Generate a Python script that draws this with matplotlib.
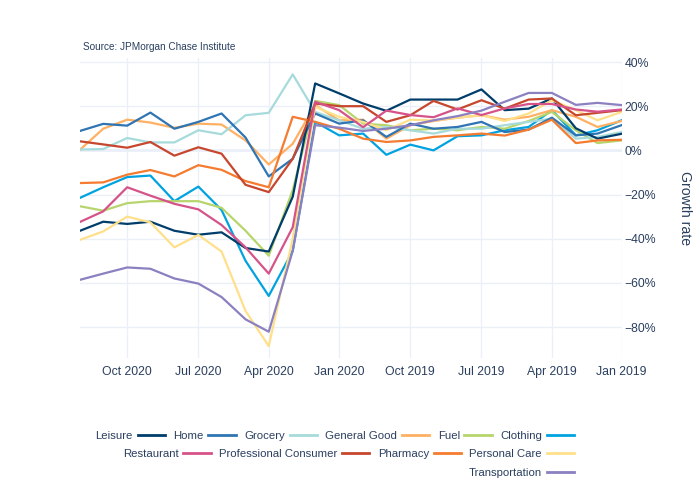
import pandas as pd
import matplotlib
matplotlib.use('Agg')
import matplotlib.pyplot as plt
import matplotlib.dates as mdates
from matplotlib.lines import Line2D

plt.rcParams['font.family'] = ['Liberation Sans', 'DejaVu Sans']

# monthly growth rates (%), Jan 2019 .. Dec 2020
months = pd.date_range('2019-01-01', periods=24, freq='MS')

clothing = [13.6, 9.1, 6.8, 18.2, 10.6, 9.1, 6.8, 6.4, 0, 2.6, -2, 7.6,
            6.8, 12.9, -45.5, -65.9, -50, -27, -16.4, -23, -11.4, -12.1, -16.7, -21.5]
fuel = [4.5, 3.3, 9.1, 17.4, 13.3, 9.8, 10.6, 9.1, 9.8, 9.1, 11.4, 12.1,
        20.5, 22.4, -18, -47.7, -36.4, -26, -23, -23, -23, -23.9, -27.3, -25.3]
general_good = [13.3, 10.6, 15.2, 18.2, 15.2, 13.9, 15.9, 14.8, 13.3, 11.4, 5.3, 13.9,
                13.6, 20.5, 3, -6.4, 4.5, 11.7, 12.1, 10.2, 12.6, 13.9, 9.8, 0.3]
grocery = [8.3, 6.1, 5.3, 14.4, 12.9, 11.4, 9.8, 9.8, 7.6, 9.1, 10.6, 9.8,
           13.6, 17.4, 34.4, 17, 15.9, 7.3, 9.1, 3.6, 3.6, 5.6, 0.6, 0.4]
home = [11.4, 7.6, 6.8, 14.8, 9.4, 8.3, 12.9, 10.6, 9.8, 12.1, 6.1, 13.6,
        12.1, 16.7, -3.8, -11.8, 5.8, 16.7, 12.9, 9.8, 17.1, 11.2, 12, 8.8]
leisure = [7.5, 5.3, 10, 23.5, 18.9, 18.2, 27.6, 23, 23, 23, 17.9, 21.2,
           25.8, 30.3, -21, -45.8, -44.2, -37.1, -38.2, -36.4, -32.3, -33.3, -32.3, -36.4]
personal_care = [17.4, 13.6, 18.2, 22.7, 16.7, 13.3, 15.9, 14.8, 13.6, 13.9, 9.1, 12.9,
                 15.2, 19.7, -40, -88.6, -72.7, -45.8, -38.3, -43.9, -32.6, -30, -36.7, -40.5]
pharmacy = [4.8, 4.5, 3.3, 13.9, 9.4, 6.7, 7.6, 6.8, 6.1, 4.5, 3.8, 5.3,
            9.8, 12.9, 15.2, -16.7, -13.9, -8.8, -6.7, -11.8, -8.9, -11, -14.5, -14.8]
prof_consumer = [18.2, 17, 15.9, 23.5, 23, 18.9, 22.7, 18.5, 22.4, 15.9, 12.9, 20,
                 20, 21.2, -3.8, -18.9, -15.6, -1.5, 1.4, -2.4, 3.8, 1.2, 2.7, 4.1]
restaurant = [18.5, 17.5, 18.5, 21, 21, 19, 16, 19, 15, 16, 18, 10.5,
              18.2, 22, -34.8, -55.8, -43.9, -33.8, -26.7, -24.2, -20.5, -16.7, -27.6, -32.4]
transportation = [20.5, 21.5, 20.6, 26, 26, 22, 18, 15.5, 13.6, 11.4, 9.8, 8.8,
                  10.3, 11.4, -45.5, -82.1, -76.5, -66.4, -60.3, -58, -53.6, -53, -55.8, -58.6]

series = [
    ('Clothing', clothing, '#00a3e0'),
    ('Fuel', fuel, '#b7d56c'),
    ('General Good', general_good, '#ffb062'),
    ('Grocery', grocery, '#a7dbdb'),
    ('Home', home, '#2f74b3'),
    ('Leisure', leisure, '#003d6b'),
    ('Personal Care', personal_care, '#ffe08a'),
    ('Pharmacy', pharmacy, '#f47b30'),
    ('Professional Consumer', prof_consumer, '#c6472d'),
    ('Restaurant', restaurant, '#d6538a'),
    ('Transportation', transportation, '#8b80c0'),
]

tick_col = '#2a3f5f'
grid_col = '#ebf0f8'

fig = plt.figure(figsize=(7, 5), dpi=100)
ax = fig.add_axes([80 / 700, 1 - 358 / 500, (621.5 - 80) / 700, (358 - 57.6) / 500])

handles = {}
for name, vals, col in series:
    ln, = ax.plot(months, vals, color=col, lw=1.6, solid_joinstyle='round')
    handles[name] = ln

# time runs right to left, axis on the right
ax.set_xlim(months[-1], months[0])
ax.set_ylim(-94, 42)
ax.yaxis.tick_right()
ax.yaxis.set_label_position('right')
ax.set_yticks([-80, -60, -40, -20, 0, 20, 40])
ax.set_yticklabels([f'{v}%'.replace('-', '\u2212') for v in [-80, -60, -40, -20, 0, 20, 40]])
ax.set_xticks(pd.date_range('2019-01-01', '2020-10-01', freq='3MS'))
ax.xaxis.set_major_formatter(mdates.DateFormatter('%b %Y'))

ax.grid(True, color=grid_col, lw=1)
ax.axhline(0, color=grid_col, lw=2, zorder=0)
ax.set_axisbelow(True)
for s in ax.spines.values():
    s.set_visible(False)
ax.tick_params(axis='both', length=0, labelsize=8.8, labelcolor=tick_col)
ax.tick_params(axis='x', pad=6)
ax.tick_params(axis='y', pad=2)
ax.set_ylabel('Growth rate', rotation=270, fontsize=10.2, color=tick_col, labelpad=26)

fig.text(83 / 700, 1 - 47 / 500, 'Source: JPMorgan Chase Institute', fontsize=7.2,
         color=tick_col, ha='left', va='center')

# legend rows (mirrored: label then line)
rows = [
    (['Leisure', 'Home', 'Grocery', 'General Good', 'Fuel', 'Clothing'], 436),
    (['Restaurant', 'Professional Consumer', 'Pharmacy', 'Personal Care'], 454),
    (['Transportation'], 473),
]
for names, ypix in rows:
    hs = [Line2D([], [], color=handles[n].get_color(), lw=2) for n in names]
    lg = fig.legend(hs, names, loc='center right', bbox_to_anchor=(574 / 700, 1 - ypix / 500),
                    ncol=len(names), frameon=False, markerfirst=False, fontsize=8.2,
                    handlelength=2.4, handletextpad=0.4, columnspacing=0.75,
                    borderaxespad=0, borderpad=0)
    for t in lg.get_texts():
        t.set_color(tick_col)

fig.savefig('out.png', dpi=100, facecolor='white')
